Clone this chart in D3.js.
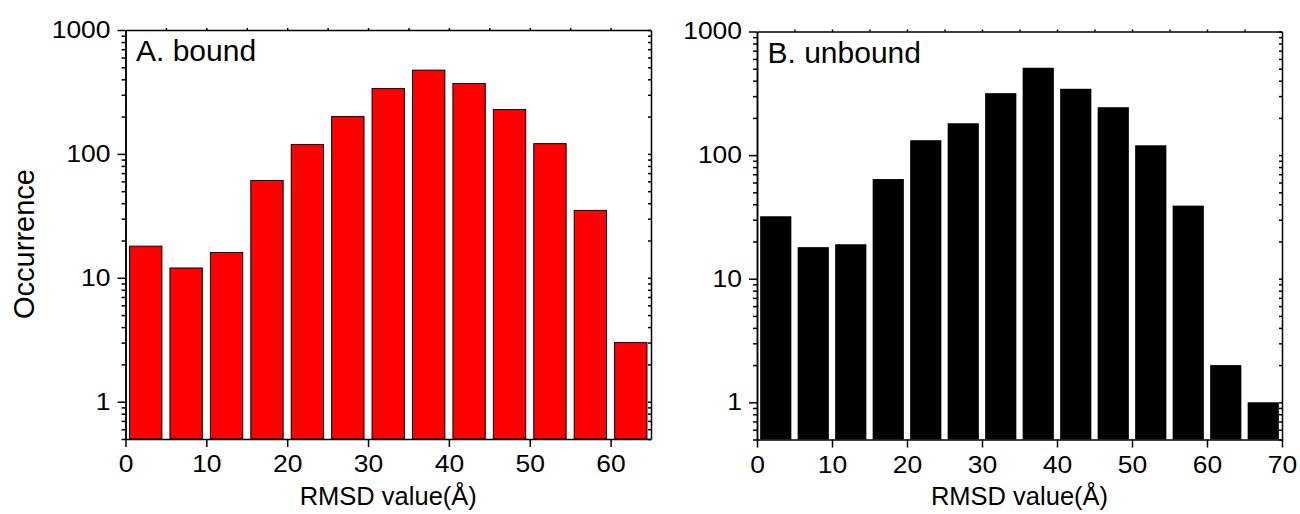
<!DOCTYPE html>
<html>
<head>
<meta charset="utf-8">
<script src="https://cdn.jsdelivr.net/npm/d3@7"></script>
<style>
  body { margin: 0; background: #fff; }
  text { font-family: "Liberation Sans", Arial, sans-serif; fill: #000; }
</style>
</head>
<body>
<script>
// RMSD histogram bins (left edge, width 5 A)
var binStarts = [0, 5, 10, 15, 20, 25, 30, 35, 40, 45, 50, 55, 60, 65];
var boundCounts = [18, 12, 16, 61, 119, 200, 337, 474, 370, 228, 121, 35, 3];
var unboundCounts = [32, 18, 19, 64, 132, 181, 317, 509, 344, 244, 120, 39, 2, 1];
var yTickVals = [1, 10, 100, 1000];
var xTicksA = [0, 10, 20, 30, 40, 50, 60];
var xTicksB = [0, 10, 20, 30, 40, 50, 60, 70];

var svg = d3.select("body").append("svg")
  .attr("width", 1300)
  .attr("height", 514);

var stretch = 1.15; // tick labels in the original are a bit wide

function drawPanel(o) {
  var x = d3.scaleLinear().domain([0, o.xmax]).range([o.left, o.right]);
  var y = d3.scaleLog().domain([0.5, 1000]).range([o.bottom, o.top]);
  var g = svg.append("g");

  var rows = o.counts.map(function (c, i) { return { start: binStarts[i], n: c }; });

  g.selectAll("rect.bar").data(rows).enter().append("rect")
    .attr("class", "bar")
    .attr("x", function (d) { return x(d.start + o.pad); })
    .attr("width", function (d) { return x(d.start + 5 - o.pad) - x(d.start + o.pad); })
    .attr("y", function (d) { return y(d.n); })
    .attr("height", function (d) { return y(0.5) - y(d.n); })
    .attr("fill", o.fill)
    .attr("stroke", o.stroke)
    .attr("stroke-width", 1);

  var logTicks = y.ticks();
  var minor = logTicks.filter(function (t) { return yTickVals.indexOf(t) < 0; });
  var topTicks = [];
  for (var t = 5; t < o.xmax; t += 5) topTicks.push(t);

  function style(a) {
    a.attr("font-size", 23).attr("font-family", null);
    a.selectAll("path.domain").attr("stroke-width", 1.5);
    a.selectAll(".tick line").attr("stroke-width", 1.5);
    a.selectAll(".tick text").attr("transform", "scale(" + stretch + ",1)");
    return a;
  }

  // top and right frame
  style(g.append("g").attr("transform", "translate(0," + o.top + ")")
    .call(d3.axisTop(x).tickValues(topTicks).tickSize(2).tickSizeOuter(0).tickFormat("")));
  style(g.append("g").attr("transform", "translate(" + o.right + ",0)")
    .call(d3.axisRight(y).tickValues(logTicks).tickSize(-3).tickSizeOuter(0).tickFormat("")));

  // left minor ticks
  style(g.append("g").attr("transform", "translate(" + o.left + ",0)")
    .call(d3.axisLeft(y).tickValues(minor).tickSize(4).tickSizeOuter(0).tickFormat("")));

  var ya = style(g.append("g").attr("transform", "translate(" + o.left + ",0)")
    .call(d3.axisLeft(y).tickValues(yTickVals).tickFormat(d3.format("d"))
      .tickSize(8).tickSizeOuter(0).tickPadding(7)));
  ya.selectAll(".tick text").attr("x", -15 / stretch);

  style(g.append("g").attr("transform", "translate(0," + o.bottom + ")")
    .call(d3.axisBottom(x).tickValues(o.xticks).tickSize(8).tickSizeOuter(0).tickPadding(9)));

  g.append("text")
    .attr("x", (o.left + o.right) / 2)
    .attr("y", 505)
    .attr("text-anchor", "middle")
    .attr("font-size", 25.5)
    .text("RMSD value(\u00c5)");

  g.append("text")
    .attr("x", o.left + 10.5)
    .attr("y", o.top + 31)
    .attr("font-size", 30)
    .text(o.label);
}

drawPanel({ counts: boundCounts, xmax: 65, xticks: xTicksA, left: 125.5, right: 651, top: 30, bottom: 439,
  pad: 0.5, fill: "#ff0000", stroke: "#000", label: "A. bound" });
drawPanel({ counts: unboundCounts, xmax: 70, xticks: xTicksB, left: 757, right: 1282, top: 31.5, bottom: 439.5,
  pad: 0.42, fill: "#000", stroke: "none", label: "B. unbound" });

svg.append("text")
  .attr("transform", "translate(34,244) rotate(-90)")
  .attr("text-anchor", "middle")
  .attr("font-size", 29)
  .text("Occurrence");
</script>
</body>
</html>
